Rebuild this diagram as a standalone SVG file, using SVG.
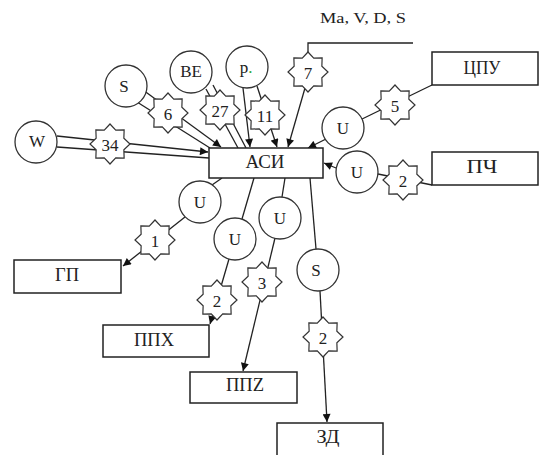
<svg xmlns="http://www.w3.org/2000/svg" xmlns:xlink="http://www.w3.org/1999/xlink" width="539" height="455" viewBox="0 0 539 455">
  <style>
    .ln { stroke: #222; stroke-width: 1.3; fill: none; }
    .arr { marker-end: url(#ah); }
    .circ { fill: #fff; stroke: #333; stroke-width: 1.3; }
    .box { fill: #fff; stroke: #222; stroke-width: 1.5; }
    .star { fill: #fff; stroke: #333; stroke-width: 1.2; }
    text { font-family: "Liberation Serif", "Times New Roman", serif; fill: #222; text-anchor: middle; dominant-baseline: central; }
    .t17 { font-size: 17px; }
    .t18 { font-size: 18px; }
    .t15 { font-size: 15px; }
  </style>
  <defs>
    <marker id="ah" viewBox="0 0 10 10" refX="10" refY="5" markerWidth="10" markerHeight="8" markerUnits="userSpaceOnUse" orient="auto">
      <path d="M0,0 L10,5 L0,10 Z" fill="#111"/>
    </marker>
    <!-- eight-pointed star used as the number badge -->
    <polygon id="star" class="star" points="0,-20 5.74,-13.86 14.14,-14.14 13.86,-5.74 20,0 13.86,5.74 14.14,14.14 5.74,13.86 0,20 -5.74,13.86 -14.14,14.14 -13.86,5.74 -20,0 -13.86,-5.74 -14.14,-14.14 -5.74,-13.86"/>
  </defs>

  <rect width="539" height="455" fill="#fff"/>

  <!-- connectors -->
  <g id="connectors">
    <!-- W -> АСИ -->
    <line class="ln arr" x1="57" y1="136" x2="208" y2="152"/>
    <line class="ln" x1="57" y1="147" x2="209" y2="158"/>
    <!-- S -> АСИ -->
    <line class="ln arr" x1="143" y1="90" x2="221" y2="147"/>
    <line class="ln" x1="137" y1="102" x2="210" y2="148"/>
    <!-- BE -> АСИ -->
    <line class="ln" x1="206" y1="89" x2="238" y2="148"/>
    <line class="ln" x1="213" y1="85" x2="246" y2="148"/>
    <!-- p. -> АСИ -->
    <line class="ln arr" x1="243" y1="88" x2="250" y2="147"/>
    <line class="ln arr" x1="257" y1="86" x2="277" y2="147"/>
    <!-- Ma, V, D, S -> 7 -> АСИ -->
    <polyline class="ln" points="413,43 308,43 308,60"/>
    <line class="ln arr" x1="305" y1="88" x2="288" y2="147"/>
    <!-- ЦПУ -> 5 -> U -> АСИ -->
    <line class="ln" x1="432" y1="85" x2="360" y2="120"/>
    <line class="ln arr" x1="326" y1="139" x2="308" y2="148"/>
    <!-- ПЧ -> 2 -> U -> АСИ -->
    <line class="ln" x1="432" y1="185" x2="378" y2="174"/>
    <line class="ln arr" x1="336" y1="168" x2="324" y2="163"/>
    <!-- АСИ -> U -> 1 -> ГП -->
    <line class="ln" x1="222" y1="178" x2="212" y2="185"/>
    <line class="ln arr" x1="185" y1="217" x2="123" y2="266"/>
    <!-- АСИ -> U -> 2 -> ППХ -->
    <line class="ln" x1="254" y1="178" x2="242" y2="219"/>
    <line class="ln arr" x1="229" y1="259" x2="210" y2="324"/>
    <!-- АСИ -> U -> 3 -> ППZ -->
    <line class="ln" x1="285" y1="178" x2="282" y2="197"/>
    <line class="ln arr" x1="275" y1="238" x2="243" y2="371"/>
    <!-- АСИ -> S -> 2 -> ЗД -->
    <line class="ln" x1="310" y1="178" x2="316" y2="249"/>
    <line class="ln arr" x1="320" y1="291" x2="327" y2="422"/>
  </g>

  <!-- number badges -->
  <g id="badges">
    <g id="b34"><use xlink:href="#star" x="110" y="144"/><text class="t17" x="110" y="145">34</text></g>
    <g id="b6"><use xlink:href="#star" x="168" y="113"/><text class="t17" x="168" y="114">6</text></g>
    <g id="b27"><use xlink:href="#star" x="220" y="110"/><text class="t17" x="220" y="111">27</text></g>
    <g id="b11"><use xlink:href="#star" x="265" y="115"/><text class="t17" x="265" y="116">11</text></g>
    <g id="b7"><use xlink:href="#star" x="308" y="72"/><text class="t17" x="308" y="73">7</text></g>
    <g id="b5"><use xlink:href="#star" x="395" y="105"/><text class="t17" x="395" y="106">5</text></g>
    <g id="b2a"><use xlink:href="#star" x="403" y="180"/><text class="t17" x="403" y="181">2</text></g>
    <g id="b1"><use xlink:href="#star" x="155" y="240"/><text class="t17" x="155" y="241">1</text></g>
    <g id="b2b"><use xlink:href="#star" x="217" y="300"/><text class="t17" x="217" y="301">2</text></g>
    <g id="b3"><use xlink:href="#star" x="262" y="282"/><text class="t17" x="262" y="283">3</text></g>
    <g id="b2c"><use xlink:href="#star" x="323" y="337"/><text class="t17" x="323" y="338">2</text></g>
  </g>

  <!-- signal circles -->
  <g id="cW"><circle class="circ" cx="36" cy="142" r="21"/><text class="t17" x="37" y="141">W</text></g>
  <g id="cS"><circle class="circ" cx="126" cy="86" r="21"/><text class="t17" x="124" y="86">S</text></g>
  <g id="cBE"><circle class="circ" cx="191" cy="72" r="21"/><text class="t17" x="191" y="71">BE</text></g>
  <g id="cP"><circle class="circ" cx="247" cy="67" r="21"/><text class="t17" x="246" y="67">p<tspan fill="#3a3">.</tspan></text></g>
  <g id="cU1"><circle class="circ" cx="343" cy="128" r="21"/><text class="t17" x="343" y="128">U</text></g>
  <g id="cU2"><circle class="circ" cx="357" cy="172" r="21"/><text class="t17" x="357" y="172">U</text></g>
  <g id="cU3"><circle class="circ" cx="200" cy="202" r="21"/><text class="t17" x="200" y="202">U</text></g>
  <g id="cU4"><circle class="circ" cx="235" cy="239" r="21"/><text class="t17" x="235" y="239">U</text></g>
  <g id="cU5"><circle class="circ" cx="280" cy="218" r="21"/><text class="t17" x="280" y="218">U</text></g>
  <g id="cS2"><circle class="circ" cx="318" cy="270" r="21"/><text class="t17" x="316" y="270">S</text></g>

  <!-- blocks -->
  <g id="ASI"><rect class="box" x="209" y="148" width="114" height="30"/><text class="t18" x="265" y="162" textLength="39" lengthAdjust="spacingAndGlyphs">АСИ</text></g>
  <g id="CPU"><rect class="box" x="432" y="52" width="106" height="33"/><text class="t18" x="482" y="68" textLength="37" lengthAdjust="spacingAndGlyphs">ЦПУ</text></g>
  <g id="PCH"><rect class="box" x="432" y="152" width="106" height="33"/><text class="t18" x="482" y="167" textLength="31" lengthAdjust="spacingAndGlyphs">ПЧ</text></g>
  <g id="GP"><rect class="box" x="14" y="260" width="107" height="33"/><text class="t18" x="67" y="275" textLength="24" lengthAdjust="spacingAndGlyphs">ГП</text></g>
  <g id="PPX"><rect class="box" x="103" y="325" width="106" height="32"/><text class="t18" x="154" y="340" textLength="40" lengthAdjust="spacingAndGlyphs">ППХ</text></g>
  <g id="PPZ"><rect class="box" x="190" y="372" width="107" height="31"/><text class="t18" x="245" y="385" textLength="38" lengthAdjust="spacingAndGlyphs">ППZ</text></g>
  <g id="ZD"><rect class="box" x="277" y="423" width="106" height="34"/><text class="t18" x="328" y="437" textLength="23" lengthAdjust="spacingAndGlyphs">ЗД</text></g>

  <text class="t15" x="363" y="18" textLength="86" lengthAdjust="spacingAndGlyphs">Ma, V, D, S</text>
</svg>
